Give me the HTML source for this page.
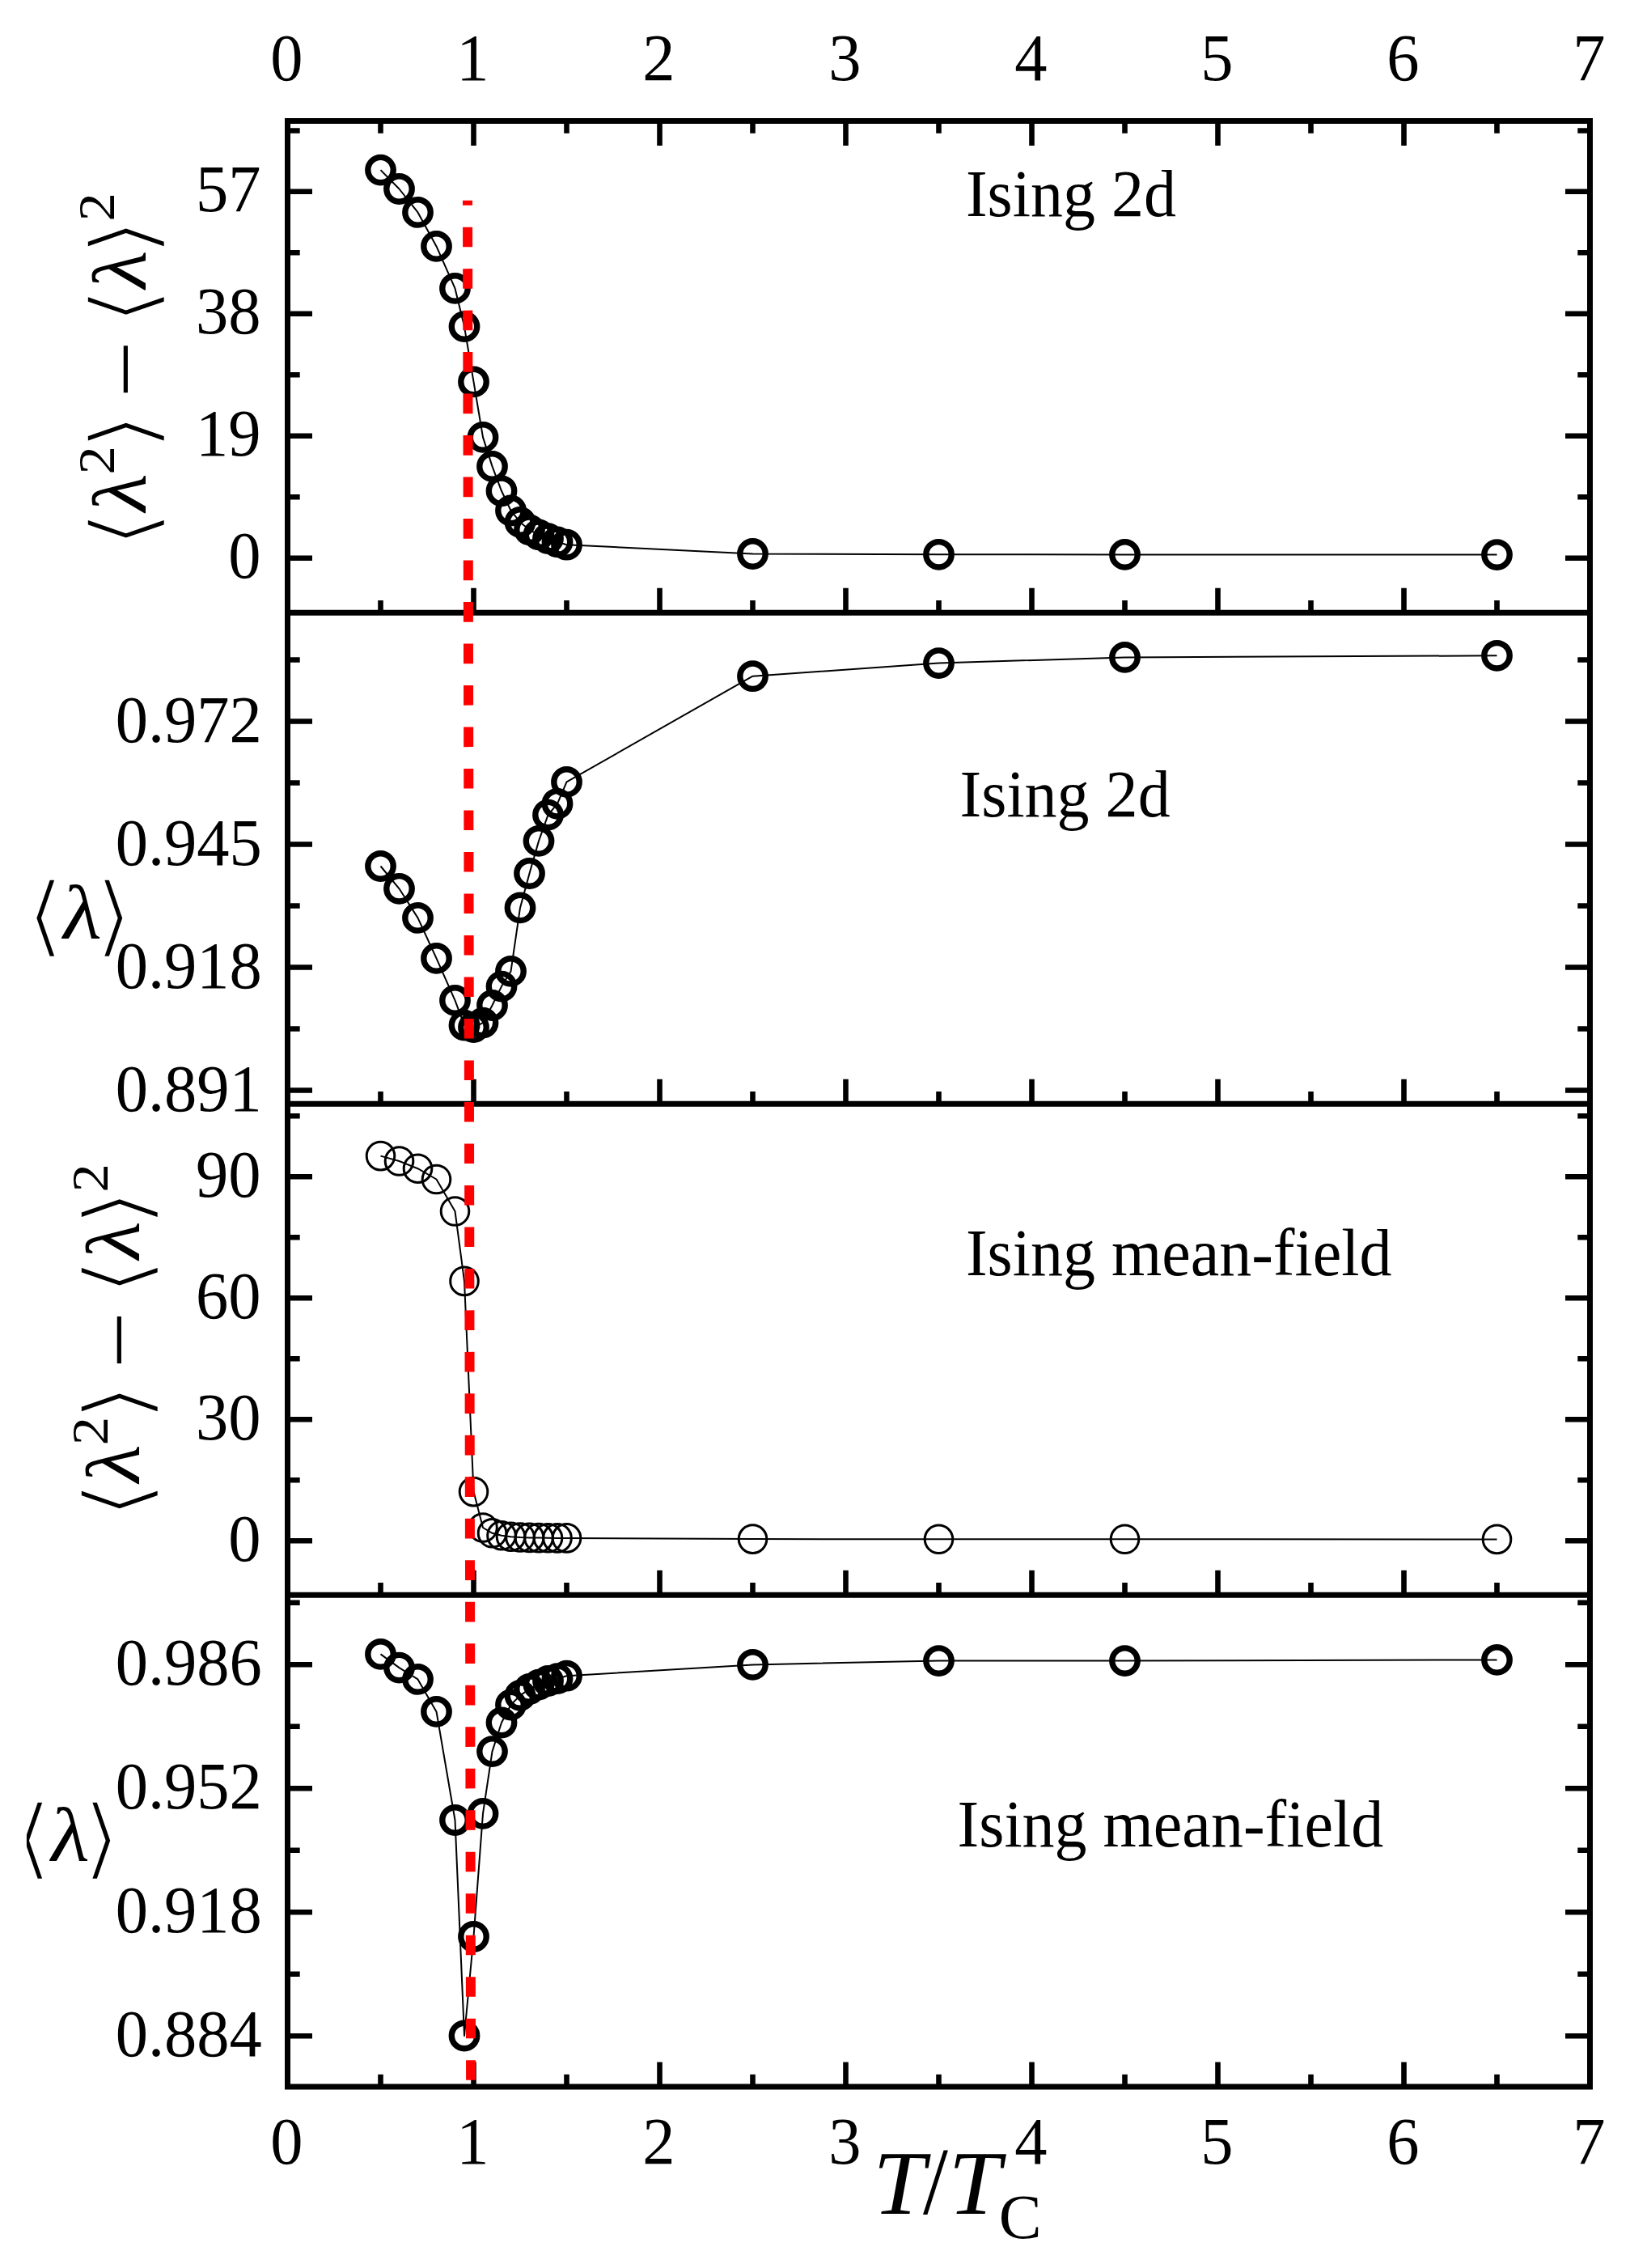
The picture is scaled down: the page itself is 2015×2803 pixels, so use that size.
<!DOCTYPE html>
<html lang="en"><head><meta charset="utf-8"><title>Ising eigenvalue statistics</title>
<style>html,body{margin:0;padding:0;background:#fff}svg{display:block}text{font-family:"Liberation Serif","DejaVu Serif",serif;fill:#000}.n{font-size:80px}.it{font-style:italic}.br{font-family:"DejaVu Sans",sans-serif}</style></head><body>
<svg width="2015" height="2803" viewBox="0 0 2015 2803">
<rect width="2015" height="2803" fill="#fff"/>
<polyline points="470.5,210.1 493.5,233.5 516.5,262.4 539.5,304.4 562.5,356.4 574,403.6 585.5,471.9 597,540.4 608.5,576.4 620,606.8 631.5,631 643,645.4 654.5,654.8 666,660.8 677.5,665.6 689,669.8 700.5,673.2 930.5,684.5 1160.5,685.3 1390.5,685.4 1850.5,685.6" fill="none" stroke="#000" stroke-width="2" stroke-linejoin="round"/>
<g fill="none" stroke="#000" stroke-width="7.4">
<circle cx="470.5" cy="210.1" r="15.7"/>
<circle cx="493.5" cy="233.5" r="15.7"/>
<circle cx="516.5" cy="262.4" r="15.7"/>
<circle cx="539.5" cy="304.4" r="15.7"/>
<circle cx="562.5" cy="356.4" r="15.7"/>
<circle cx="574" cy="403.6" r="15.7"/>
<circle cx="585.5" cy="471.9" r="15.7"/>
<circle cx="597" cy="540.4" r="15.7"/>
<circle cx="608.5" cy="576.4" r="15.7"/>
<circle cx="620" cy="606.8" r="15.7"/>
<circle cx="631.5" cy="631" r="15.7"/>
<circle cx="643" cy="645.4" r="15.7"/>
<circle cx="654.5" cy="654.8" r="15.7"/>
<circle cx="666" cy="660.8" r="15.7"/>
<circle cx="677.5" cy="665.6" r="15.7"/>
<circle cx="689" cy="669.8" r="15.7"/>
<circle cx="700.5" cy="673.2" r="15.7"/>
<circle cx="930.5" cy="684.5" r="15.7"/>
<circle cx="1160.5" cy="685.3" r="15.7"/>
<circle cx="1390.5" cy="685.4" r="15.7"/>
<circle cx="1850.5" cy="685.6" r="15.7"/>
</g>
<polyline points="470.5,1070.5 493.5,1098.3 516.5,1134.4 539.5,1184.4 562.5,1236.4 574,1267.1 585.5,1269.6 597,1264.1 608.5,1242.5 620,1219.1 631.5,1200.4 643,1121.9 654.5,1079.5 666,1039.4 677.5,1007.1 689,993.3 700.5,966.4 930.5,835.7 1160.5,819.6 1390.5,812.4 1850.5,810.3" fill="none" stroke="#000" stroke-width="2" stroke-linejoin="round"/>
<g fill="none" stroke="#000" stroke-width="7.4">
<circle cx="470.5" cy="1070.5" r="15.7"/>
<circle cx="493.5" cy="1098.3" r="15.7"/>
<circle cx="516.5" cy="1134.4" r="15.7"/>
<circle cx="539.5" cy="1184.4" r="15.7"/>
<circle cx="562.5" cy="1236.4" r="15.7"/>
<circle cx="574" cy="1267.1" r="15.7"/>
<circle cx="585.5" cy="1269.6" r="15.7"/>
<circle cx="597" cy="1264.1" r="15.7"/>
<circle cx="608.5" cy="1242.5" r="15.7"/>
<circle cx="620" cy="1219.1" r="15.7"/>
<circle cx="631.5" cy="1200.4" r="15.7"/>
<circle cx="643" cy="1121.9" r="15.7"/>
<circle cx="654.5" cy="1079.5" r="15.7"/>
<circle cx="666" cy="1039.4" r="15.7"/>
<circle cx="677.5" cy="1007.1" r="15.7"/>
<circle cx="689" cy="993.3" r="15.7"/>
<circle cx="700.5" cy="966.4" r="15.7"/>
<circle cx="930.5" cy="835.7" r="15.7"/>
<circle cx="1160.5" cy="819.6" r="15.7"/>
<circle cx="1390.5" cy="812.4" r="15.7"/>
<circle cx="1850.5" cy="810.3" r="15.7"/>
</g>
<polyline points="470.5,1428.6 493.5,1435 516.5,1444.2 539.5,1457.5 562.5,1497 574,1583.4 585.5,1843.6 597,1888 608.5,1894.8 620,1897.8 631.5,1899.2 643,1900 654.5,1900.4 666,1900.6 677.5,1900.8 689,1900.9 700.5,1900.9 930.5,1902.1 1160.5,1902.3 1390.5,1902.3 1850.5,1902.4" fill="none" stroke="#000" stroke-width="2" stroke-linejoin="round"/>
<g fill="none" stroke="#000" stroke-width="3.0">
<circle cx="470.5" cy="1428.6" r="17.3"/>
<circle cx="493.5" cy="1435" r="17.3"/>
<circle cx="516.5" cy="1444.2" r="17.3"/>
<circle cx="539.5" cy="1457.5" r="17.3"/>
<circle cx="562.5" cy="1497" r="17.3"/>
<circle cx="574" cy="1583.4" r="17.3"/>
<circle cx="585.5" cy="1843.6" r="17.3"/>
<circle cx="597" cy="1888" r="17.3"/>
<circle cx="608.5" cy="1894.8" r="17.3"/>
<circle cx="620" cy="1897.8" r="17.3"/>
<circle cx="631.5" cy="1899.2" r="17.3"/>
<circle cx="643" cy="1900" r="17.3"/>
<circle cx="654.5" cy="1900.4" r="17.3"/>
<circle cx="666" cy="1900.6" r="17.3"/>
<circle cx="677.5" cy="1900.8" r="17.3"/>
<circle cx="689" cy="1900.9" r="17.3"/>
<circle cx="700.5" cy="1900.9" r="17.3"/>
<circle cx="930.5" cy="1902.1" r="17.3"/>
<circle cx="1160.5" cy="1902.3" r="17.3"/>
<circle cx="1390.5" cy="1902.3" r="17.3"/>
<circle cx="1850.5" cy="1902.4" r="17.3"/>
</g>
<polyline points="470.5,2044.4 493.5,2061.1 516.5,2075.4 539.5,2115.4 562.5,2249.5 574,2516 585.5,2393.5 597,2241.4 608.5,2164.6 620,2129 631.5,2107 643,2095.4 654.5,2087.5 666,2082.1 677.5,2077.5 689,2074.6 700.5,2071.2 930.5,2057.4 1160.5,2052.6 1390.5,2052.6 1850.5,2051.4" fill="none" stroke="#000" stroke-width="2" stroke-linejoin="round"/>
<g fill="none" stroke="#000" stroke-width="7.4">
<circle cx="470.5" cy="2044.4" r="15.7"/>
<circle cx="493.5" cy="2061.1" r="15.7"/>
<circle cx="516.5" cy="2075.4" r="15.7"/>
<circle cx="539.5" cy="2115.4" r="15.7"/>
<circle cx="562.5" cy="2249.5" r="15.7"/>
<circle cx="574" cy="2516" r="15.7"/>
<circle cx="585.5" cy="2393.5" r="15.7"/>
<circle cx="597" cy="2241.4" r="15.7"/>
<circle cx="608.5" cy="2164.6" r="15.7"/>
<circle cx="620" cy="2129" r="15.7"/>
<circle cx="631.5" cy="2107" r="15.7"/>
<circle cx="643" cy="2095.4" r="15.7"/>
<circle cx="654.5" cy="2087.5" r="15.7"/>
<circle cx="666" cy="2082.1" r="15.7"/>
<circle cx="677.5" cy="2077.5" r="15.7"/>
<circle cx="689" cy="2074.6" r="15.7"/>
<circle cx="700.5" cy="2071.2" r="15.7"/>
<circle cx="930.5" cy="2057.4" r="15.7"/>
<circle cx="1160.5" cy="2052.6" r="15.7"/>
<circle cx="1390.5" cy="2052.6" r="15.7"/>
<circle cx="1850.5" cy="2051.4" r="15.7"/>
</g>
<g fill="none" stroke="#000" stroke-width="7.0" stroke-linecap="butt">
<rect x="355.5" y="149.5" width="1610" height="2429.5"/>
<line x1="355.5" y1="757.3" x2="1965.5" y2="757.3"/>
<line x1="355.5" y1="1364.2" x2="1965.5" y2="1364.2"/>
<line x1="355.5" y1="1971.3" x2="1965.5" y2="1971.3"/>
</g>
<g stroke="#000" stroke-width="6.6">
<path d="M470.5 149.5v15.2M470.5 757.3v-15.2M470.5 1364.2v-15.2M470.5 1971.3v-15.2M470.5 2579v-15.2M585.5 149.5v30.5M585.5 757.3v-30.5M585.5 1364.2v-30.5M585.5 1971.3v-30.5M585.5 2579v-30.5M700.5 149.5v15.2M700.5 757.3v-15.2M700.5 1364.2v-15.2M700.5 1971.3v-15.2M700.5 2579v-15.2M815.5 149.5v30.5M815.5 757.3v-30.5M815.5 1364.2v-30.5M815.5 1971.3v-30.5M815.5 2579v-30.5M930.5 149.5v15.2M930.5 757.3v-15.2M930.5 1364.2v-15.2M930.5 1971.3v-15.2M930.5 2579v-15.2M1045.5 149.5v30.5M1045.5 757.3v-30.5M1045.5 1364.2v-30.5M1045.5 1971.3v-30.5M1045.5 2579v-30.5M1160.5 149.5v15.2M1160.5 757.3v-15.2M1160.5 1364.2v-15.2M1160.5 1971.3v-15.2M1160.5 2579v-15.2M1275.5 149.5v30.5M1275.5 757.3v-30.5M1275.5 1364.2v-30.5M1275.5 1971.3v-30.5M1275.5 2579v-30.5M1390.5 149.5v15.2M1390.5 757.3v-15.2M1390.5 1364.2v-15.2M1390.5 1971.3v-15.2M1390.5 2579v-15.2M1505.5 149.5v30.5M1505.5 757.3v-30.5M1505.5 1364.2v-30.5M1505.5 1971.3v-30.5M1505.5 2579v-30.5M1620.5 149.5v15.2M1620.5 757.3v-15.2M1620.5 1364.2v-15.2M1620.5 1971.3v-15.2M1620.5 2579v-15.2M1735.5 149.5v30.5M1735.5 757.3v-30.5M1735.5 1364.2v-30.5M1735.5 1971.3v-30.5M1735.5 2579v-30.5M1850.5 149.5v15.2M1850.5 757.3v-15.2M1850.5 1364.2v-15.2M1850.5 1971.3v-15.2M1850.5 2579v-15.2M355.5 236.8h30.5M1965.5 236.8h-30.5M355.5 387.8h30.5M1965.5 387.8h-30.5M355.5 538.8h30.5M1965.5 538.8h-30.5M355.5 689.8h30.5M1965.5 689.8h-30.5M355.5 161.5h15.2M1965.5 161.5h-15.2M355.5 312.3h15.2M1965.5 312.3h-15.2M355.5 463.3h15.2M1965.5 463.3h-15.2M355.5 614.3h15.2M1965.5 614.3h-15.2M355.5 891.5h30.5M1965.5 891.5h-30.5M355.5 1043.5h30.5M1965.5 1043.5h-30.5M355.5 1195.5h30.5M1965.5 1195.5h-30.5M355.5 1347.5h30.5M1965.5 1347.5h-30.5M355.5 815.5h15.2M1965.5 815.5h-15.2M355.5 967.5h15.2M1965.5 967.5h-15.2M355.5 1119.5h15.2M1965.5 1119.5h-15.2M355.5 1271.5h15.2M1965.5 1271.5h-15.2M355.5 1454.2h30.5M1965.5 1454.2h-30.5M355.5 1604.2h30.5M1965.5 1604.2h-30.5M355.5 1754.2h30.5M1965.5 1754.2h-30.5M355.5 1904.2h30.5M1965.5 1904.2h-30.5M355.5 1379.3h15.2M1965.5 1379.3h-15.2M355.5 1529.2h15.2M1965.5 1529.2h-15.2M355.5 1679.2h15.2M1965.5 1679.2h-15.2M355.5 1829.2h15.2M1965.5 1829.2h-15.2M355.5 2057.3h30.5M1965.5 2057.3h-30.5M355.5 2210.3h30.5M1965.5 2210.3h-30.5M355.5 2363.2h30.5M1965.5 2363.2h-30.5M355.5 2516.2h30.5M1965.5 2516.2h-30.5M355.5 1980.8h15.2M1965.5 1980.8h-15.2M355.5 2133.8h15.2M1965.5 2133.8h-15.2M355.5 2286.8h15.2M1965.5 2286.8h-15.2M355.5 2439.7h15.2M1965.5 2439.7h-15.2" fill="none"/>
</g>
<line x1="582.1" y1="2570.8" x2="578.0" y2="247.7" stroke="#f00" stroke-width="12" stroke-dasharray="24.6 26.89"/>
<text transform="translate(354.5 98.8) scale(1 1.02)" font-size="80.5" text-anchor="middle">0</text>
<text transform="translate(584.5 98.8) scale(1 1.02)" font-size="80.5" text-anchor="middle">1</text>
<text transform="translate(814.5 98.8) scale(1 1.02)" font-size="80.5" text-anchor="middle">2</text>
<text transform="translate(1044.5 98.8) scale(1 1.02)" font-size="80.5" text-anchor="middle">3</text>
<text transform="translate(1274.5 98.8) scale(1 1.02)" font-size="80.5" text-anchor="middle">4</text>
<text transform="translate(1504.5 98.8) scale(1 1.02)" font-size="80.5" text-anchor="middle">5</text>
<text transform="translate(1734.5 98.8) scale(1 1.02)" font-size="80.5" text-anchor="middle">6</text>
<text transform="translate(1964.5 98.8) scale(1 1.02)" font-size="80.5" text-anchor="middle">7</text>
<text transform="translate(354.5 2674) scale(1 1.02)" font-size="80.5" text-anchor="middle">0</text>
<text transform="translate(584.5 2674) scale(1 1.02)" font-size="80.5" text-anchor="middle">1</text>
<text transform="translate(814.5 2674) scale(1 1.02)" font-size="80.5" text-anchor="middle">2</text>
<text transform="translate(1044.5 2674) scale(1 1.02)" font-size="80.5" text-anchor="middle">3</text>
<text transform="translate(1274.5 2674) scale(1 1.02)" font-size="80.5" text-anchor="middle">4</text>
<text transform="translate(1504.5 2674) scale(1 1.02)" font-size="80.5" text-anchor="middle">5</text>
<text transform="translate(1734.5 2674) scale(1 1.02)" font-size="80.5" text-anchor="middle">6</text>
<text transform="translate(1964.5 2674) scale(1 1.02)" font-size="80.5" text-anchor="middle">7</text>
<text transform="translate(322.5 261.1) scale(1 1.02)" font-size="80.5" text-anchor="end">57</text>
<text transform="translate(322.5 412.1) scale(1 1.02)" font-size="80.5" text-anchor="end">38</text>
<text transform="translate(322.5 563.1) scale(1 1.02)" font-size="80.5" text-anchor="end">19</text>
<text transform="translate(322.5 714.1) scale(1 1.02)" font-size="80.5" text-anchor="end">0</text>
<text transform="translate(323.8 917.1) scale(1 1.02)" font-size="80.5" text-anchor="end">0.972</text>
<text transform="translate(323.8 1069.1) scale(1 1.02)" font-size="80.5" text-anchor="end">0.945</text>
<text transform="translate(323.8 1221.1) scale(1 1.02)" font-size="80.5" text-anchor="end">0.918</text>
<text transform="translate(323.8 1373.1) scale(1 1.02)" font-size="80.5" text-anchor="end">0.891</text>
<text transform="translate(322.5 1478.8) scale(1 1.02)" font-size="80.5" text-anchor="end">90</text>
<text transform="translate(322.5 1628.8) scale(1 1.02)" font-size="80.5" text-anchor="end">60</text>
<text transform="translate(322.5 1778.8) scale(1 1.02)" font-size="80.5" text-anchor="end">30</text>
<text transform="translate(322.5 1928.8) scale(1 1.02)" font-size="80.5" text-anchor="end">0</text>
<text transform="translate(323.8 2082.1) scale(1 1.02)" font-size="80.5" text-anchor="end">0.986</text>
<text transform="translate(323.8 2235.1) scale(1 1.02)" font-size="80.5" text-anchor="end">0.952</text>
<text transform="translate(323.8 2388) scale(1 1.02)" font-size="80.5" text-anchor="end">0.918</text>
<text transform="translate(323.8 2541) scale(1 1.02)" font-size="80.5" text-anchor="end">0.884</text>
<text transform="translate(1193.9 267.2) scale(0.994 1.02)" font-size="80.5">Ising 2d</text>
<text transform="translate(1186.6 1009.1) scale(0.994 1.02)" font-size="80.5">Ising 2d</text>
<text transform="translate(1193.9 1576.4) scale(0.994 1.02)" font-size="80.5">Ising mean-field</text>
<text transform="translate(1183.6 2282) scale(0.994 1.02)" font-size="80.5">Ising mean-field</text>
<text transform="translate(1079.35 2736) scale(1.03 1)" font-size="112.8" class="it">T</text>
<text transform="translate(1141.1 2736) scale(0.942 1)" font-size="118.2">/</text>
<text transform="translate(1172.45 2736) scale(1.03 1)" font-size="112.8" class="it">T</text>
<text transform="translate(1234.7 2766.1)" font-size="79.26">C</text>
<text transform="translate(32 1168.9) scale(1.12 1)" font-size="110" class="br" stroke="#fff" stroke-width="4" stroke-linejoin="round">⟨</text>
<text transform="translate(73.15 1160.2) skewX(-6) scale(1.0874 1)" font-size="95.32">λ</text>
<text transform="translate(116.6 1168.9) scale(1.12 1)" font-size="110" class="br" stroke="#fff" stroke-width="4" stroke-linejoin="round">⟩</text>
<text transform="translate(17.1 2308.9) scale(1.12 1)" font-size="110" class="br" stroke="#fff" stroke-width="4" stroke-linejoin="round">⟨</text>
<text transform="translate(58.15 2300.3) skewX(-6) scale(1.0874 1)" font-size="95.32">λ</text>
<text transform="translate(101.6 2308.9) scale(1.12 1)" font-size="110" class="br" stroke="#fff" stroke-width="4" stroke-linejoin="round">⟩</text>
<rect x="20" y="2260" width="12.9" height="30" fill="#fff"/>
<g transform="translate(7.7 -1199.8) rotate(-90)">
<text transform="translate(-1877.8 181.9) scale(1.12 1)" font-size="110" class="br" stroke="#fff" stroke-width="4" stroke-linejoin="round">⟨</text>
<text transform="translate(-1836.9 172.1) skewX(-6) scale(1.0777 1)" font-size="94.33">λ</text>
<text transform="translate(-1786.18 133.3) scale(1.0977 1)" font-size="64.45">2</text>
<text transform="translate(-1757.2 181.9) scale(1.12 1)" font-size="110" class="br" stroke="#fff" stroke-width="4" stroke-linejoin="round">⟩</text>
<text transform="translate(-1691.2 182.3) scale(1 0.84)" font-size="124.7">−</text>
<text transform="translate(-1602 181.9) scale(1.12 1)" font-size="110" class="br" stroke="#fff" stroke-width="4" stroke-linejoin="round">⟨</text>
<text transform="translate(-1561 172.1) skewX(-6) scale(1.0777 1)" font-size="94.33">λ</text>
<text transform="translate(-1517 181.9) scale(1.12 1)" font-size="110" class="br" stroke="#fff" stroke-width="4" stroke-linejoin="round">⟩</text>
<text transform="translate(-1473.38 133.3) scale(1.0977 1)" font-size="64.45">2</text>
</g>
<g transform="translate(0 0) rotate(-90)">
<text transform="translate(-1877.8 181.9) scale(1.12 1)" font-size="110" class="br" stroke="#fff" stroke-width="4" stroke-linejoin="round">⟨</text>
<text transform="translate(-1836.9 172.1) skewX(-6) scale(1.0777 1)" font-size="94.33">λ</text>
<text transform="translate(-1786.18 133.3) scale(1.0977 1)" font-size="64.45">2</text>
<text transform="translate(-1757.2 181.9) scale(1.12 1)" font-size="110" class="br" stroke="#fff" stroke-width="4" stroke-linejoin="round">⟩</text>
<text transform="translate(-1691.2 182.3) scale(1 0.84)" font-size="124.7">−</text>
<text transform="translate(-1602 181.9) scale(1.12 1)" font-size="110" class="br" stroke="#fff" stroke-width="4" stroke-linejoin="round">⟨</text>
<text transform="translate(-1561 172.1) skewX(-6) scale(1.0777 1)" font-size="94.33">λ</text>
<text transform="translate(-1517 181.9) scale(1.12 1)" font-size="110" class="br" stroke="#fff" stroke-width="4" stroke-linejoin="round">⟩</text>
<text transform="translate(-1473.38 133.3) scale(1.0977 1)" font-size="64.45">2</text>
</g>
</svg></body></html>
